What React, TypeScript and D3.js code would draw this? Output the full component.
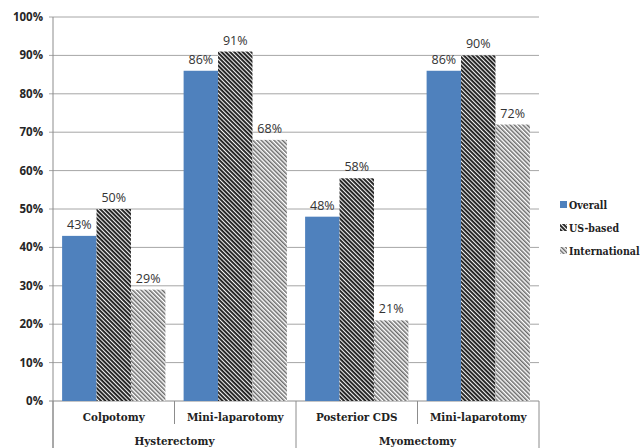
import React from "react";
import * as d3 from "d3";

// Procedure rows (two-level category axis)
const groups = ["Hysterectomy", "Myomectomy"];
const categories = ["Colpotomy", "Mini-laparotomy", "Posterior CDS", "Mini-laparotomy"];
const categoryGroup = [0, 0, 1, 1];
const seriesNames = ["Overall", "US-based", "International"];
const overall = [43, 86, 48, 86];
const usBased = [50, 91, 58, 90];
const international = [29, 68, 21, 72];
const yTicks = [0, 10, 20, 30, 40, 50, 60, 70, 80, 90, 100];

const W = 641;
const H = 448;
const left = 53;
const right = 539;
const top = 17;
const bottom = 401;

const serifStyle = { fontFamily: "'DejaVu Serif Condensed', 'DejaVu Serif', serif" };
const sansStyle = { fontFamily: "'Open Sans', 'Liberation Sans', sans-serif" };

export default function App() {
  const values = [overall, usBased, international];
  const x = d3
    .scaleBand<number>()
    .domain(d3.range(categories.length))
    .range([left, right])
    .paddingInner(0.15)
    .paddingOuter(0.075);
  const xs = d3
    .scaleBand<number>()
    .domain(d3.range(seriesNames.length))
    .range([0, x.bandwidth()]);
  const y = d3.scaleLinear().domain([0, 100]).range([bottom, top]);
  const step = x.step();
  const catEdge = (i: number) => left + i * step;
  const fills = ["#4f81bd", "url(#usHatch)", "url(#intlHatch)"];

  return (
    <svg
      width={W}
      height={H}
      style={{ position: "absolute", left: 0, top: 0, background: "#fff" }}
    >
      <defs>
        <pattern
          id="usHatch"
          width={3}
          height={3}
          patternUnits="userSpaceOnUse"
          patternTransform="rotate(-45)"
        >
          <rect width={3} height={3} fill="#1e1e1e" />
          <rect x={0} width={1.1} height={3} fill="#f4f4f4" />
        </pattern>
        <pattern
          id="intlHatch"
          width={3}
          height={3}
          patternUnits="userSpaceOnUse"
          patternTransform="rotate(-45)"
        >
          <rect width={3} height={3} fill="#ffffff" />
          <rect x={0} width={1.5} height={3} fill="#6a6a6a" />
        </pattern>
      </defs>

      {/* horizontal gridlines and y tick labels */}
      {yTicks.map((t) => (
        <g key={t}>
          <line
            x1={left - 4}
            x2={right}
            y1={y(t)}
            y2={y(t)}
            stroke={t === 0 ? "#8c8c8c" : "#a6a6a6"}
            strokeWidth={1}
          />
          <text
            x={43}
            y={y(t)}
            dy="0.35em"
            textAnchor="end"
            style={sansStyle}
            fontWeight="bold"
            fontSize={11.5}
            fill="#262626"
          >
            {t}%
          </text>
        </g>
      ))}

      {/* y axis */}
      <line x1={left} x2={left} y1={top} y2={H} stroke="#8c8c8c" />

      {/* bars */}
      {categories.map((c, i) => (
        <g key={i} transform={`translate(${x(i)},0)`}>
          {values.map((vals, s) => (
            <g key={s}>
              <rect
                x={xs(s)}
                y={y(vals[i])}
                width={xs.bandwidth()}
                height={bottom - y(vals[i])}
                fill={fills[s]}
              />
              <text
                x={(xs(s) as number) + xs.bandwidth() / 2}
                y={y(vals[i]) - 7}
                textAnchor="middle"
                style={sansStyle}
                fontSize={12.5}
                fill="#333"
              >
                {vals[i]}%
              </text>
            </g>
          ))}
        </g>
      ))}

      {/* category dividers below the axis */}
      {d3.range(categories.length + 1).map((i) => {
        const isGroupEdge =
          i === 0 || i === categories.length || categoryGroup[i] !== categoryGroup[i - 1];
        return (
          <line
            key={i}
            x1={catEdge(i)}
            x2={catEdge(i)}
            y1={bottom}
            y2={isGroupEdge ? H : 424}
            stroke="#8c8c8c"
          />
        );
      })}

      {/* sub-category labels */}
      {categories.map((c, i) => (
        <text
          key={i}
          x={catEdge(i) + step / 2}
          y={417}
          dy="0.35em"
          textAnchor="middle"
          style={serifStyle}
          fontWeight="bold"
          fontSize={11.5}
          fill="#222"
        >
          {c}
        </text>
      ))}

      {/* group labels */}
      {groups.map((g, gi) => {
        const idx = categories.map((_, i) => i).filter((i) => categoryGroup[i] === gi);
        const cx = (catEdge(idx[0]) + catEdge(idx[idx.length - 1] + 1)) / 2;
        return (
          <text
            key={g}
            x={cx}
            y={441}
            dy="0.35em"
            textAnchor="middle"
            style={serifStyle}
            fontWeight="bold"
            fontSize={11.5}
            fill="#222"
          >
            {g}
          </text>
        );
      })}

      {/* legend */}
      {seriesNames.map((n, s) => (
        <g key={n} transform={`translate(560,${205 + s * 23})`}>
          <rect x={0} y={-4} width={7} height={7} fill={fills[s]} />
          <text
            x={9}
            y={0}
            dy="0.35em"
            style={serifStyle}
            fontWeight="bold"
            fontSize={10.5}
            fill="#222"
          >
            {n}
          </text>
        </g>
      ))}
    </svg>
  );
}
